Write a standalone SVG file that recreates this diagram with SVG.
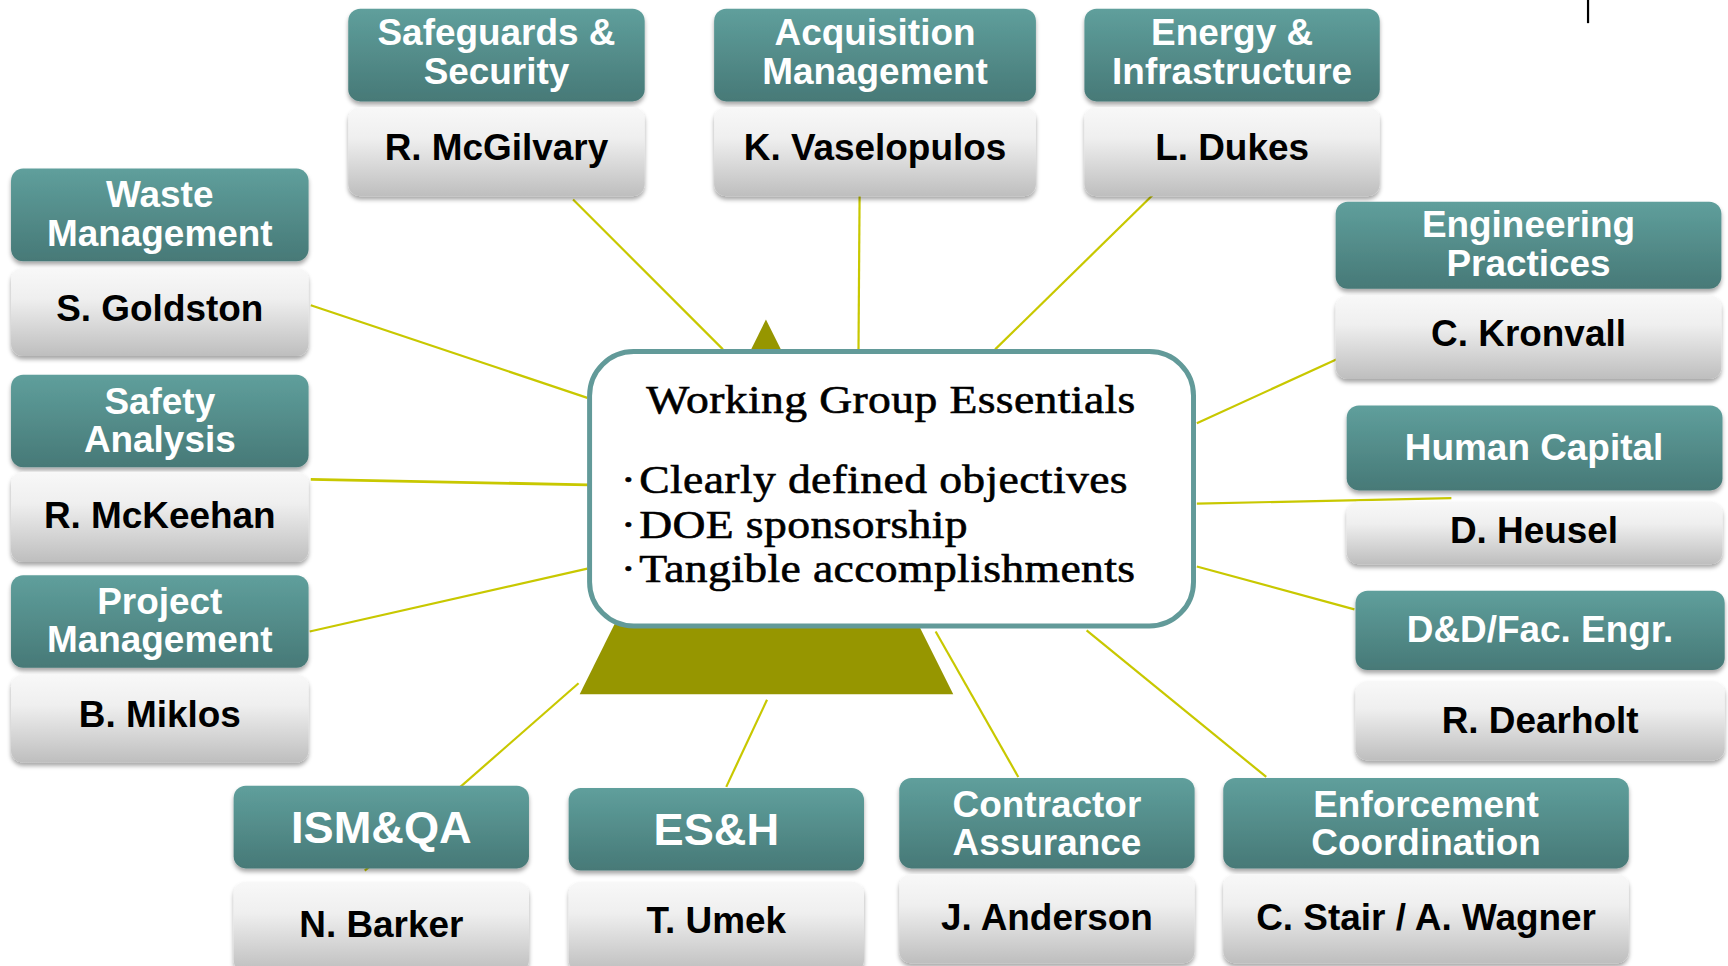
<svg xmlns="http://www.w3.org/2000/svg" width="1728" height="966" viewBox="0 0 1728 966">
<defs>
<linearGradient id="hdr" x1="0" y1="0" x2="0" y2="1">
<stop offset="0" stop-color="#5f9f9c"/>
<stop offset="1" stop-color="#477977"/>
</linearGradient>
<linearGradient id="nm" x1="0" y1="0" x2="0" y2="1">
<stop offset="0" stop-color="#f8f8f8"/>
<stop offset="0.35" stop-color="#efefef"/>
<stop offset="1" stop-color="#bebebe"/>
</linearGradient>
<filter id="sh" x="-5%" y="-10%" width="110%" height="125%">
<feDropShadow dx="0" dy="3" stdDeviation="2" flood-color="#000" flood-opacity="0.35"/>
</filter>
<style>
.h{fill:url(#hdr);filter:url(#sh)}
.n{fill:url(#nm);filter:url(#sh)}
.ht{font-family:"Liberation Sans",Arial,sans-serif;font-weight:bold;font-size:33.5px;fill:#fff;text-anchor:middle}
.big{font-size:41px}
.nt{font-family:"Liberation Sans",Arial,sans-serif;font-weight:bold;font-size:33.5px;fill:#000;text-anchor:middle}
.c{stroke:#c8c800;stroke-width:2;fill:none}
.ct{font-family:"Liberation Serif","Times New Roman",serif;font-size:36px;letter-spacing:0.3px;fill:#000;stroke:#000;stroke-width:0.55px}
</style>
</defs>
<g transform="scale(1.10204)">
<g id="connectors">
<line class="c" x1="520" y1="181" x2="656" y2="317"/>
<line class="c" x1="780" y1="178" x2="779" y2="318"/>
<line class="c" x1="1046" y1="177" x2="903" y2="317"/>
<line class="c" x1="282" y1="277" x2="533" y2="361"/>
<line class="c" x1="282" y1="435" x2="534" y2="440" style="stroke-width:2.6"/>
<line class="c" x1="281" y1="573" x2="533" y2="516"/>
<line class="c" x1="525" y1="620" x2="331" y2="790"/>
<line class="c" x1="696" y1="635" x2="659" y2="714"/>
<line class="c" x1="849" y1="573" x2="924" y2="705"/>
<line class="c" x1="986" y1="572" x2="1149" y2="705"/>
<line class="c" x1="1086" y1="514" x2="1229" y2="553"/>
<line class="c" x1="1086" y1="457" x2="1317" y2="452"/>
<line class="c" x1="1086" y1="384" x2="1213" y2="326"/>
</g>
<g id="center">
<polygon points="695,290 526,630 865,630" fill="#969600"/>
<rect x="535" y="319" width="548" height="249" rx="40" fill="#fff" stroke="#629a99" stroke-width="4.5"/>
<g transform="translate(580 0) scale(1.15 1)">
<text class="ct" x="198.7" y="374.5" text-anchor="middle">Working Group Essentials</text>
<text class="ct"><tspan x="-14.5" y="447">·</tspan><tspan x="0" y="447">Clearly defined objectives</tspan><tspan x="-14.5" y="488.5">·</tspan><tspan x="0" y="488.5">DOE sponsorship</tspan><tspan x="-14.5" y="528">·</tspan><tspan x="0" y="528">Tangible accomplishments</tspan></text>
</g>
</g>
<g id="safeguards">
<rect class="h" x="316" y="8" width="269" height="84" rx="11"/>
<text class="ht" x="450.5" y="41">Safeguards &amp;</text>
<text class="ht" x="450.5" y="76">Security</text>
<rect class="n" x="316" y="97" width="269" height="81" rx="11"/>
<text class="nt" x="450.5" y="145">R. McGilvary</text>
</g>
<g id="acquisition">
<rect class="h" x="648" y="8" width="292" height="84" rx="11"/>
<text class="ht" x="794" y="41">Acquisition</text>
<text class="ht" x="794" y="76">Management</text>
<rect class="n" x="648" y="97" width="292" height="81" rx="11"/>
<text class="nt" x="794" y="145">K. Vaselopulos</text>
</g>
<g id="energy">
<rect class="h" x="984" y="8" width="268" height="84" rx="11"/>
<text class="ht" x="1118" y="41">Energy &amp;</text>
<text class="ht" x="1118" y="76">Infrastructure</text>
<rect class="n" x="984" y="97" width="268" height="81" rx="11"/>
<text class="nt" x="1118" y="145">L. Dukes</text>
</g>
<g id="waste">
<rect class="h" x="10" y="153" width="270" height="84" rx="11"/>
<text class="ht" x="145" y="188">Waste</text>
<text class="ht" x="145" y="223">Management</text>
<rect class="n" x="10" y="243" width="270" height="80" rx="11"/>
<text class="nt" x="145" y="291">S. Goldston</text>
</g>
<g id="safety">
<rect class="h" x="10" y="340" width="270" height="84" rx="11"/>
<text class="ht" x="145" y="376">Safety</text>
<text class="ht" x="145" y="410">Analysis</text>
<rect class="n" x="10" y="428" width="270" height="82" rx="11"/>
<text class="nt" x="145" y="479">R. McKeehan</text>
</g>
<g id="project">
<rect class="h" x="10" y="522" width="270" height="84" rx="11"/>
<text class="ht" x="145" y="557">Project</text>
<text class="ht" x="145" y="592">Management</text>
<rect class="n" x="10" y="612" width="270" height="80" rx="11"/>
<text class="nt" x="145" y="660">B. Miklos</text>
</g>
<g id="engineering">
<rect class="h" x="1212" y="183" width="350" height="79" rx="11"/>
<text class="ht" x="1387" y="215">Engineering</text>
<text class="ht" x="1387" y="250">Practices</text>
<rect class="n" x="1212" y="268" width="350" height="76" rx="11"/>
<text class="nt" x="1387" y="314">C. Kronvall</text>
</g>
<g id="human">
<rect class="n" x="1222" y="455" width="341" height="57" rx="11"/>
<text class="nt" x="1392" y="493">D. Heusel</text>
<rect class="h" x="1222" y="368" width="341" height="77" rx="11"/>
<text class="ht" x="1392" y="417">Human Capital</text>
</g>
<g id="dd">
<rect class="h" x="1230" y="536" width="335" height="72" rx="11"/>
<text class="ht" x="1397.5" y="583">D&amp;D/Fac. Engr.</text>
<rect class="n" x="1230" y="618" width="335" height="72" rx="11"/>
<text class="nt" x="1397.5" y="665">R. Dearholt</text>
</g>
<g id="ismqa">
<rect class="h" x="212" y="713" width="268" height="75" rx="11"/>
<text class="ht big" x="346" y="765">ISM&amp;QA</text>
<rect class="n" x="212" y="800" width="268" height="82" rx="11"/>
<text class="nt" x="346" y="850">N. Barker</text>
</g>
<g id="esh">
<rect class="h" x="516" y="715" width="268" height="75" rx="11"/>
<text class="ht big" x="650" y="767">ES&amp;H</text>
<rect class="n" x="516" y="800" width="268" height="82" rx="11"/>
<text class="nt" x="650" y="847">T. Umek</text>
</g>
<g id="contractor">
<rect class="h" x="816" y="706" width="268" height="82" rx="11"/>
<text class="ht" x="950" y="741">Contractor</text>
<text class="ht" x="950" y="776">Assurance</text>
<rect class="n" x="816" y="793" width="268" height="81" rx="11"/>
<text class="nt" x="950" y="844">J. Anderson</text>
</g>
<g id="enforcement">
<rect class="h" x="1110" y="706" width="368" height="82" rx="11"/>
<text class="ht" x="1294" y="741">Enforcement</text>
<text class="ht" x="1294" y="776">Coordination</text>
<rect class="n" x="1110" y="793" width="368" height="81" rx="11"/>
<text class="nt" x="1294" y="844">C. Stair / A. Wagner</text>
</g>
<line x1="1441" y1="0" x2="1441" y2="21" stroke="#000" stroke-width="2"/>
</g>
</svg>
